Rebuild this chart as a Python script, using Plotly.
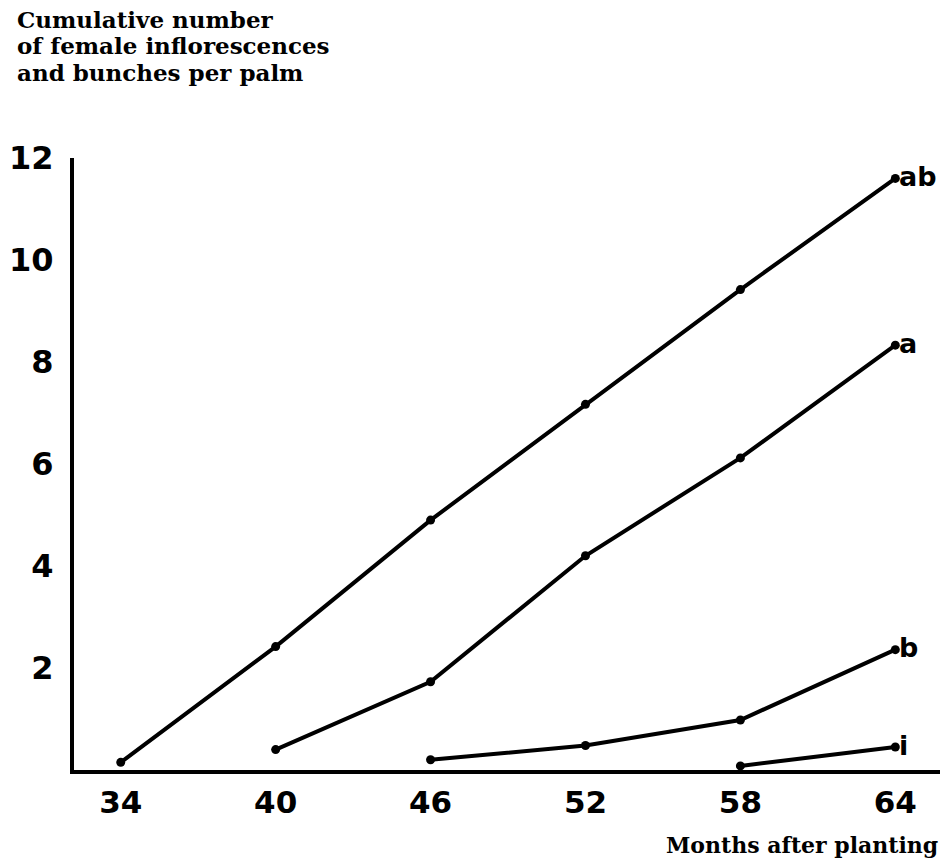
import plotly.graph_objects as go

months_ab = [34, 40, 46, 52, 58, 64]
values_ab = [0.15, 2.42, 4.9, 7.17, 9.42, 11.6]
months_a = [40, 46, 52, 58, 64]
values_a = [0.4, 1.73, 4.2, 6.12, 8.33]
months_b = [46, 52, 58, 64]
values_b = [0.2, 0.48, 0.98, 2.36]
months_i = [58, 64]
values_i = [0.08, 0.45]
series = [("ab", months_ab, values_ab), ("a", months_a, values_a),
          ("b", months_b, values_b), ("i", months_i, values_i)]
x_ticks = [34, 40, 46, 52, 58, 64]
y_ticks = [2, 4, 6, 8, 10, 12]
title_lines = ["Cumulative number", "of female inflorescences", "and bunches per palm"]

fig = go.Figure()
for name, xs, ys in series:
    fig.add_trace(go.Scatter(x=xs, y=ys, mode="lines+markers", name=name,
                             line=dict(color="black", width=4),
                             marker=dict(color="black", size=9)))
    fig.add_annotation(x=xs[-1], y=ys[-1], text=name, showarrow=False,
                       xanchor="left", yanchor="middle", xshift=2, yshift=2,
                       font=dict(family="DejaVu Sans", size=27, color="black", weight="bold"))

plot_top, plot_bottom = 158, 770
for k, line in enumerate(title_lines):
    py = 20 + 26 * k
    fig.add_annotation(xref="paper", yref="paper", x=-0.068,
                       y=(plot_bottom - py) / (plot_bottom - plot_top),
                       xanchor="left", yanchor="middle", text=line, showarrow=False,
                       font=dict(family="DejaVu Serif", size=23, color="black", weight="bold"))

fig.add_annotation(xref="paper", yref="paper", x=1.0, y=-(845 - plot_bottom) / (plot_bottom - plot_top),
                   xanchor="right", yanchor="middle", text="Months after planting", showarrow=False,
                   font=dict(family="DejaVu Serif", size=22, color="black", weight="bold"))

fig.update_layout(
    width=949, height=863,
    margin=dict(l=68, r=9, t=plot_top, b=863 - plot_bottom),
    paper_bgcolor="white", plot_bgcolor="white",
    showlegend=False,
    xaxis=dict(range=[32.19, 65.73], tickvals=x_ticks, ticktext=[str(v) for v in x_ticks],
               showgrid=False, zeroline=False, showline=True, linecolor="black", linewidth=4,
               ticks="", ticklabelstandoff=2,
               tickfont=dict(family="DejaVu Sans", size=31, color="black", weight="bold")),
    yaxis=dict(range=[0, 12], tickvals=y_ticks, ticktext=[str(v) for v in y_ticks],
               showgrid=False, zeroline=False, showline=True, linecolor="black", linewidth=4,
               ticks="", ticklabelstandoff=10,
               tickfont=dict(family="DejaVu Sans", size=32, color="black", weight="bold")),
)
fig.write_html("out.html")
